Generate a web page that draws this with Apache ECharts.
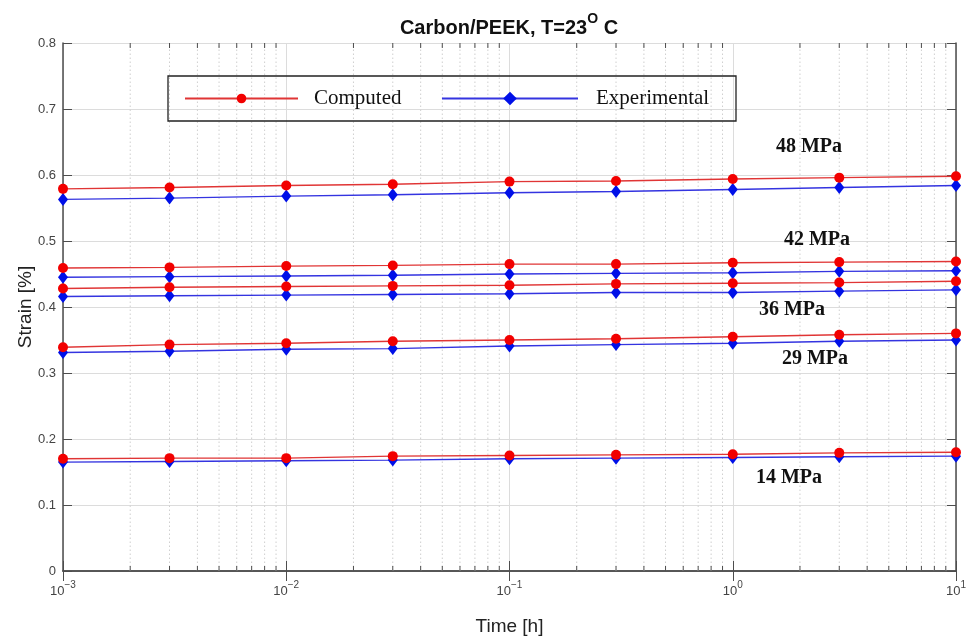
<!DOCTYPE html>
<html>
<head>
<meta charset="utf-8">
<script src="https://cdn.jsdelivr.net/npm/echarts@6/dist/echarts.min.js"></script>
<style>html,body{margin:0;padding:0;background:#fff}#c{width:973px;height:644px}</style>
</head>
<body>
<div id="c"></div>
<script>
const timeH = [0.001, 0.003, 0.01, 0.03, 0.1, 0.3, 1, 3, 10];

const comp48 = [0.579, 0.581, 0.584, 0.586, 0.590, 0.591, 0.594, 0.596, 0.598];
const exp48  = [0.563, 0.565, 0.568, 0.570, 0.573, 0.575, 0.578, 0.581, 0.584];
const comp42 = [0.459, 0.460, 0.462, 0.463, 0.465, 0.465, 0.467, 0.468, 0.469];
const exp42  = [0.445, 0.446, 0.447, 0.448, 0.450, 0.451, 0.452, 0.454, 0.455];
const comp36 = [0.428, 0.430, 0.431, 0.432, 0.433, 0.435, 0.436, 0.437, 0.439];
const exp36  = [0.416, 0.417, 0.418, 0.419, 0.420, 0.422, 0.422, 0.424, 0.426];
const comp29 = [0.339, 0.343, 0.345, 0.348, 0.350, 0.352, 0.355, 0.358, 0.360];
const exp29  = [0.331, 0.333, 0.336, 0.337, 0.341, 0.343, 0.345, 0.348, 0.350];
const comp14 = [0.170, 0.171, 0.171, 0.174, 0.175, 0.176, 0.177, 0.179, 0.180];
const exp14  = [0.165, 0.166, 0.167, 0.168, 0.170, 0.171, 0.172, 0.173, 0.174];

const stressLabels = ['48 MPa', '42 MPa', '36 MPa', '29 MPa', '14 MPa'];
const decades = [0.001, 0.01, 0.1, 1];
const minorMultipliers = [2, 3, 4, 5, 6, 7, 8, 9];
const minorTicks = [];
decades.forEach(d => minorMultipliers.forEach(m => minorTicks.push(+(d * m).toPrecision(3))));

const expSets = [exp48, exp42, exp36, exp29, exp14];
const compSets = [comp48, comp42, comp36, comp29, comp14];

const RED = '#f20000', REDLINE = '#e03535', BLUE = '#0010e8', BLUELINE = '#3434e0';
const AX = '#4d4d4d';

const series = [];
series.push({
  type: 'custom', name: 'minor', z: 1, silent: true,
  data: minorTicks.map(v => [v, 0]),
  renderItem: function (params, api) {
    const x = api.value(0);
    const b = api.coord([x, 0]);
    const t = api.coord([x, 0.8]);
    return { type: 'group', children: [
      { type: 'line', shape: { x1: b[0], y1: b[1], x2: t[0], y2: t[1] }, style: { stroke: '#cfcfcf', lineWidth: 1, lineDash: [1.5, 2.5] } },
      { type: 'line', shape: { x1: b[0], y1: b[1], x2: b[0], y2: b[1] - 5 }, style: { stroke: AX, lineWidth: 1 } },
      { type: 'line', shape: { x1: t[0], y1: t[1], x2: t[0], y2: t[1] + 5 }, style: { stroke: AX, lineWidth: 1 } }
    ]};
  }
});
expSets.forEach(arr => series.push({
  type: 'line', name: 'Experimental', z: 3,
  data: timeH.map((t, i) => [t, arr[i]]),
  symbol: 'diamond', symbolSize: [10, 13],
  itemStyle: { color: BLUE },
  lineStyle: { color: BLUELINE, width: 1.4 }
}));
compSets.forEach(arr => series.push({
  type: 'line', name: 'Computed', z: 4,
  data: timeH.map((t, i) => [t, arr[i]]),
  symbol: 'circle', symbolSize: 10,
  itemStyle: { color: RED },
  lineStyle: { color: REDLINE, width: 1.4 }
}));

const labelPos = [[809, 147], [817, 240], [792, 310], [815, 359], [789, 478]];

const chart = echarts.init(document.getElementById('c'), null, { renderer: 'canvas' });
chart.setOption({
  animation: false,
  backgroundColor: '#fff',
  title: {
    text: '{a|Carbon/PEEK, T=23}{s|O}{a| C}',
    left: 509, top: 12, textAlign: 'center', padding: 0,
    textStyle: {
      rich: {
        a: { fontFamily: 'Liberation Sans', fontWeight: 'bold', fontSize: 20, color: '#111', lineHeight: 26, verticalAlign: 'bottom' },
        s: { fontFamily: 'Liberation Sans', fontWeight: 'bold', fontSize: 14, color: '#111', lineHeight: 26, verticalAlign: 'top' }
      }
    }
  },
  legend: [
    { data: ['Computed'], left: 184, top: 88, padding: 0, itemWidth: 113, itemHeight: 12,
      textStyle: { fontFamily: 'Liberation Serif', fontSize: 21, color: '#111', padding: [0, 0, 0, 11] }, selectedMode: false },
    { data: ['Experimental'], left: 441, top: 88, padding: 0, itemWidth: 136, itemHeight: 17,
      textStyle: { fontFamily: 'Liberation Serif', fontSize: 21, color: '#111', padding: [0, 0, 0, 13] }, selectedMode: false }
  ],
  graphic: [
    { type: 'rect', shape: { x: 168, y: 76, width: 568, height: 45 }, style: { fill: 'none', stroke: '#222', lineWidth: 1.3 }, z: 10 }
  ].concat(stressLabels.map((s, i) => ({
    type: 'text', x: labelPos[i][0], y: labelPos[i][1], z: 10,
    style: { text: s, font: 'bold 20px "Liberation Serif"', fill: '#111', textAlign: 'center', textVerticalAlign: 'middle' }
  }))),
  grid: { left: 63, right: 17, top: 43, bottom: 73 },
  xAxis: [
    { type: 'log', logBase: 10, min: 0.001, max: 10,
      name: 'Time [h]', nameLocation: 'middle', nameGap: 46, nameMoveOverlap: false,
      nameTextStyle: { fontFamily: 'Liberation Sans', fontSize: 19, color: '#222' },
      axisLine: { lineStyle: { color: AX, width: 1.5 } },
      axisTick: { inside: true, length: 10, lineStyle: { color: AX } },
      splitLine: { show: true, lineStyle: { color: '#dcdcdc', width: 1 } },
      axisLabel: {
        margin: 9,
        formatter: function (v) { const e = Math.round(Math.log10(v)); return '{b|10}{e|' + (e < 0 ? '\u2212' + (-e) : e) + '}'; },
        rich: {
          b: { fontFamily: 'Liberation Sans', fontSize: 13, color: '#444', lineHeight: 18, verticalAlign: 'bottom' },
          e: { fontFamily: 'Liberation Sans', fontSize: 10, color: '#444', lineHeight: 18, verticalAlign: 'top' }
        }
      }
    },
    { type: 'log', logBase: 10, min: 0.001, max: 10, position: 'top',
      axisLine: { lineStyle: { color: AX, width: 1.5 } },
      axisTick: { inside: true, length: 10, lineStyle: { color: AX } },
      axisLabel: { show: false }, splitLine: { show: false } }
  ],
  yAxis: [
    { type: 'value', min: 0, max: 0.8, interval: 0.1,
      name: 'Strain [%]', nameLocation: 'middle', nameGap: 28, nameMoveOverlap: false,
      nameTextStyle: { fontFamily: 'Liberation Sans', fontSize: 19, color: '#222' },
      axisLine: { show: true, lineStyle: { color: AX, width: 1.5 } },
      axisTick: { show: true, inside: true, length: 9, lineStyle: { color: AX } },
      splitLine: { show: true, lineStyle: { color: '#dcdcdc', width: 1 } },
      axisLabel: { margin: 7, fontFamily: 'Liberation Sans', fontSize: 13, color: '#444' }
    },
    { type: 'value', min: 0, max: 0.8, interval: 0.1, position: 'right',
      axisLine: { show: true, lineStyle: { color: AX, width: 1.5 } },
      axisTick: { show: true, inside: true, length: 9, lineStyle: { color: AX } },
      axisLabel: { show: false }, splitLine: { show: false } }
  ],
  series: series
});
</script>
</body>
</html>
